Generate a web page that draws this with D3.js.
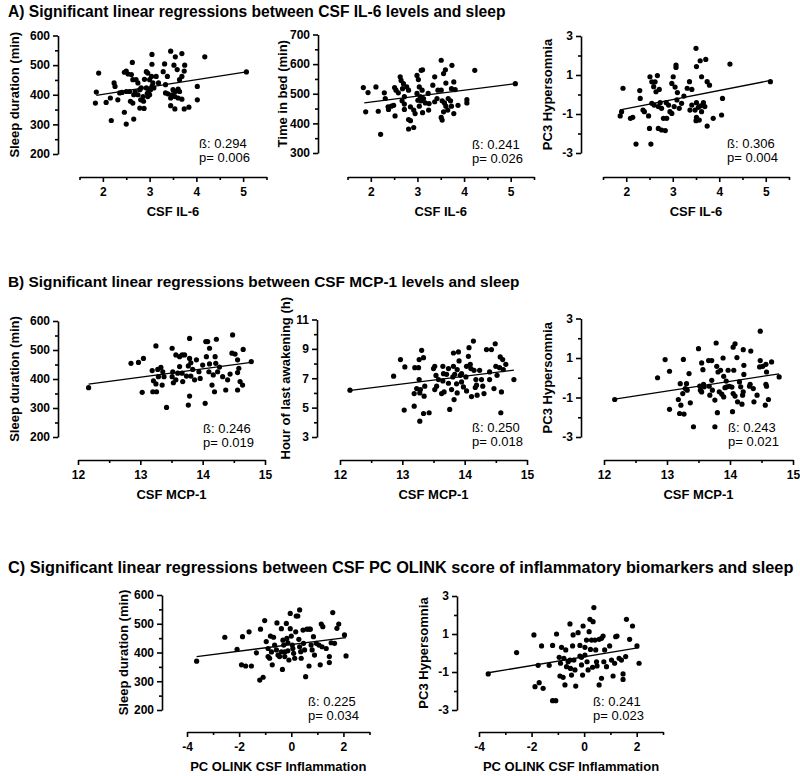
<!DOCTYPE html>
<html><head><meta charset="utf-8">
<script src="https://cdn.jsdelivr.net/npm/d3@7"></script>
<style>body{margin:0;background:#fff} svg text{font-family:"Liberation Sans",Arial,Helvetica,sans-serif;fill:#000}</style>
</head><body><svg id="c" width="800" height="776"></svg>
<script>
// ---------- DATA ----------
const titles = [
  "A) Significant linear regressions between CSF IL-6 levels and sleep",
  "B) Significant linear regressions between CSF MCP-1 levels and sleep",
  "C) Significant linear regressions between CSF PC OLINK score of inflammatory biomarkers and sleep"
];
const xLabels = ["CSF IL-6","CSF IL-6","CSF IL-6","CSF MCP-1","CSF MCP-1","CSF MCP-1","PC OLINK CSF Inflammation","PC OLINK CSF Inflammation"];
const yLabels = ["Sleep duration (min)","Time in bed (min)","PC3 Hypersomnia","Sleep duration (min)","Hour of last awakening (h)","PC3 Hypersomnia","Sleep duration (min)","PC3 Hypersomnia"];
const betas = ["0.294","0.241","0.306","0.246","0.250","0.243","0.225","0.241"];
const pvals = ["0.006","0.026","0.004","0.019","0.018","0.021","0.034","0.023"];

const ticksIL6 = [2,3,4,5], minorIL6 = [1.5,2.5,3.5,4.5,5.5];
const ticksMCP = [12,13,14,15], minorMCP = [12.5,13.5,14.5];
const ticksOlink = [-4,-2,0,2], minorOlink = [-3,-1,1,3];
const ticksSleep = [200,300,400,500,600], minorSleep = [250,350,450,550];
const ticksBed = [300,400,500,600,700], minorBed = [350,450,550,650];
const ticksPC3 = [-3,-1,1,3], minorPC3 = [-2,0,2];
const ticksWake = [3,5,7,9,11], minorWake = [4,6,8,10];

const il6Sleep = [[1.91,473],[1.86,409],[1.84,372],[2.07,374],[2.16,389],[2.18,313],[2.24,440],[2.26,428],[2.32,383],[2.36,406],[2.41,408],[2.46,476],[2.5,480],[2.54,470],[2.46,341],[2.5,301],[2.66,318],[2.63,509],[2.61,468],[2.64,451],[2.59,378],[2.64,372],[2.5,411],[2.57,411],[2.69,411],[2.66,400],[2.75,400],[2.79,417],[2.82,423],[2.79,355],[2.88,354],[2.81,383],[2.87,378],[2.93,478],[2.96,473],[2.89,452],[3.0,451],[3.05,536],[3.05,503],[3.04,462],[3.07,440],[2.98,411],[3.02,417],[3.05,428],[3.09,423],[2.93,423],[2.95,405],[3.0,400],[2.96,394],[2.86,394],[3.19,440],[3.32,504],[3.29,478],[3.38,462],[3.34,434],[3.45,547],[3.55,528],[3.69,539],[3.52,500],[3.59,485],[3.75,500],[3.74,480],[3.69,462],[3.64,451],[3.39,403],[3.34,406],[3.5,417],[3.55,411],[3.61,419],[3.64,411],[3.48,400],[3.54,394],[3.45,389],[3.61,389],[3.69,385],[3.45,363],[3.54,352],[3.74,352],[3.84,358],[4.02,428],[4.02,383],[4.18,528],[5.07,477],[2.71,451],[2.75,440],[3.14,462]];
const il6Bed = [[1.84,521],[1.94,504],[1.89,439],[2.11,523],[2.16,441],[2.21,363],[2.29,503],[2.31,484],[2.37,456],[2.38,447],[2.44,458],[2.49,461],[2.52,425],[2.51,521],[2.54,512],[2.59,503],[2.63,557],[2.65,545],[2.7,534],[2.68,517],[2.72,490],[2.67,476],[2.72,465],[2.77,523],[2.81,512],[2.72,447],[2.85,456],[2.92,445],[2.95,433],[2.81,413],[2.85,409],[2.81,381],[2.92,386],[2.99,562],[3.02,548],[3.08,579],[3.11,581],[3.04,523],[3.1,512],[2.99,501],[3.06,490],[3.01,478],[3.08,476],[3.13,484],[3.17,469],[3.04,458],[3.11,436],[3.23,501],[3.37,557],[3.33,529],[3.44,512],[3.42,484],[3.51,512],[3.37,473],[3.25,467],[3.51,613],[3.6,581],[3.74,596],[3.56,568],[3.61,536],[3.78,540],[3.73,517],[3.81,514],[3.53,476],[3.58,469],[3.66,484],[3.71,476],[3.61,458],[3.73,458],[3.56,439],[3.65,445],[3.51,420],[3.53,411],[3.78,433],[3.87,461],[4.06,480],[4.06,469],[4.23,579],[5.1,534],[3.24,445]];
const il6Hyper = [[1.93,0.32],[1.87,-1.1],[1.9,-0.88],[2.09,-1.22],[2.14,-1.17],[2.21,-2.54],[2.29,0.2],[2.3,-0.2],[2.36,-0.8],[2.39,-0.88],[2.48,-1.1],[2.53,-2.54],[2.5,-1.74],[2.51,0.91],[2.55,0.65],[2.59,0.4],[2.62,0.65],[2.67,0.97],[2.64,0.14],[2.71,0.26],[2.55,-0.45],[2.6,-0.54],[2.69,-0.62],[2.73,-0.42],[2.76,-0.71],[2.69,-1.74],[2.76,-1.82],[2.84,-1.85],[2.8,-1.22],[2.87,-1.22],[2.86,-0.42],[2.91,-0.54],[2.94,-0.88],[2.98,0.57],[3.01,0.91],[3.07,1.51],[3.07,1.39],[3.05,0.38],[3.1,0.1],[3.09,-0.28],[3.03,-0.62],[2.98,-0.97],[3.14,-0.71],[3.19,-0.45],[3.24,-0.08],[3.31,0.32],[3.36,0.66],[3.41,0.26],[3.5,2.37],[3.59,1.73],[3.71,1.8],[3.51,1.43],[3.62,0.91],[3.74,0.66],[3.79,0.48],[3.41,-0.54],[3.51,-0.42],[3.55,-0.66],[3.6,-0.58],[3.66,-0.42],[3.69,-0.62],[3.62,-0.88],[3.48,-0.8],[3.37,-0.8],[3.51,-1.17],[3.5,-1.34],[3.57,-1.31],[3.74,-1.62],[3.87,-1.22],[4.07,-0.2],[4.05,-1.05],[4.23,1.56],[5.1,0.66]];
const mcpSleep = [[12.17,370],[12.85,454],[12.97,457],[13.05,471],[13.03,354],[13.2,356],[13.26,356],[13.25,514],[13.19,429],[13.28,433],[13.33,440],[13.36,425],[13.21,394],[13.25,383],[13.35,379],[13.29,408],[13.42,302],[13.51,506],[13.57,483],[13.52,425],[13.51,408],[13.57,397],[13.53,387],[13.63,443],[13.67,483],[13.71,483],[13.67,420],[13.68,391],[13.74,410],[13.79,540],[13.79,471],[13.77,445],[13.81,456],[13.84,433],[13.81,410],[13.87,397],[13.79,341],[13.77,310],[13.9,466],[13.94,425],[14.0,448],[13.96,402],[14.05,529],[14.08,529],[14.11,506],[14.06,477],[14.11,452],[14.1,425],[14.04,316],[14.17,414],[14.15,379],[14.2,477],[14.22,537],[14.21,454],[14.24,425],[14.19,356],[14.27,441],[14.32,408],[14.37,362],[14.4,397],[14.44,417],[14.48,552],[14.47,489],[14.52,486],[14.56,466],[14.58,437],[14.56,422],[14.6,391],[14.56,362],[14.65,502],[14.64,379],[14.78,460],[13.63,477],[13.6,420],[13.38,408]];
const mcpWake = [[12.16,6.19],[12.86,7.14],[12.97,8.27],[13.04,7.77],[13.03,4.83],[13.19,5.1],[13.19,5.96],[13.23,6.3],[13.2,7.72],[13.26,7.72],[13.27,6.91],[13.31,8.9],[13.27,8.27],[13.34,8.4],[13.29,6.23],[13.28,6.0],[13.36,6.46],[13.35,5.78],[13.34,4.6],[13.43,4.65],[13.28,4.08],[13.5,7.66],[13.52,7.81],[13.54,7.19],[13.52,6.23],[13.55,6.46],[13.58,6.91],[13.65,7.81],[13.66,7.31],[13.65,6.82],[13.67,6.07],[13.63,5.96],[13.71,7.27],[13.74,7.66],[13.74,6.66],[13.76,4.88],[13.79,6.23],[13.82,7.81],[13.81,7.09],[13.84,7.27],[13.82,8.72],[13.83,5.55],[13.87,6.62],[13.9,8.79],[13.91,8.18],[13.88,7.59],[13.93,7.2],[13.95,6.75],[13.88,6.0],[13.95,7.31],[14.02,7.09],[14.03,6.14],[14.03,7.81],[14.06,8.49],[14.07,9.08],[14.09,7.95],[14.1,7.66],[14.11,5.75],[14.14,9.53],[14.15,7.54],[14.18,6.91],[14.19,6.53],[14.17,6.37],[14.2,5.85],[14.24,7.54],[14.27,6.91],[14.29,6.46],[14.31,5.96],[14.35,8.95],[14.4,7.43],[14.4,6.91],[14.43,8.95],[14.49,9.35],[14.47,6.3],[14.5,7.81],[14.52,7.2],[14.56,7.72],[14.57,8.45],[14.58,4.65],[14.59,6.07],[14.61,8.27],[14.62,7.59],[14.66,7.95],[14.79,6.91],[13.98,6.41]];
const mcpHyper = [[12.17,-1.1],[12.85,0.0],[12.97,0.92],[13.04,0.33],[13.04,-1.6],[13.18,-1.1],[13.21,-0.3],[13.22,-1.39],[13.2,-1.81],[13.26,0.93],[13.27,-1.84],[13.25,-0.8],[13.29,-0.55],[13.31,-0.3],[13.32,-0.63],[13.35,0.21],[13.37,-1.27],[13.42,-2.48],[13.5,1.47],[13.52,-0.42],[13.53,-0.63],[13.55,0.75],[13.57,0.41],[13.58,-0.33],[13.55,-0.72],[13.59,-0.46],[13.66,0.87],[13.67,-0.43],[13.68,-0.88],[13.71,0.87],[13.71,-0.13],[13.72,-0.63],[13.76,-1.13],[13.76,-2.48],[13.78,1.76],[13.79,0.58],[13.8,-1.77],[13.81,0.29],[13.83,-0.71],[13.85,0.38],[13.87,-0.83],[13.89,1.0],[13.9,0.07],[13.94,-0.17],[13.95,-0.46],[13.92,-0.5],[13.9,-0.97],[13.97,0.38],[13.99,-0.43],[14.03,-0.47],[14.04,-1.72],[14.05,1.55],[14.08,1.72],[14.06,0.38],[14.05,-0.8],[14.08,-0.93],[14.11,1.02],[14.12,-1.22],[14.15,-0.21],[14.17,-0.46],[14.19,-1.34],[14.21,1.42],[14.22,0.63],[14.22,0.17],[14.21,-0.71],[14.2,-0.88],[14.32,-0.33],[14.33,1.35],[14.31,-0.43],[14.37,-0.55],[14.38,-1.22],[14.43,-0.88],[14.48,2.36],[14.48,0.87],[14.47,0.55],[14.52,0.58],[14.57,0.68],[14.58,0.29],[14.57,-0.33],[14.56,-1.39],[14.61,-1.1],[14.66,0.8],[14.78,0.04],[14.58,-0.43]];
const olinkSleep = [[-3.63,370],[-2.55,453],[-2.08,411],[-1.87,455],[-1.91,357],[-1.75,353],[-1.53,353],[-1.62,472],[-1.34,399],[-1.18,481],[-1.21,304],[-1.08,314],[-1.02,511],[-0.96,438],[-0.89,414],[-0.89,386],[-0.83,380],[-0.8,457],[-0.76,402],[-0.73,357],[-0.68,453],[-0.64,426],[-0.57,409],[-0.51,391],[-0.55,503],[-0.38,483],[-0.45,386],[-0.34,341],[-0.32,443],[-0.29,426],[-0.25,402],[-0.25,386],[-0.19,501],[-0.17,449],[-0.13,434],[-0.13,406],[-0.09,374],[-0.04,536],[-0.04,483],[0.0,457],[0.04,426],[0.06,414],[0.09,397],[0.13,380],[0.17,472],[0.19,527],[0.25,527],[0.32,548],[0.29,446],[0.32,420],[0.36,403],[0.38,380],[0.45,478],[0.47,432],[0.51,409],[0.55,316],[0.6,481],[0.68,481],[0.73,481],[0.68,353],[0.76,426],[0.8,409],[0.85,455],[0.89,391],[0.96,432],[1.11,357],[1.15,499],[1.21,490],[1.06,426],[1.18,420],[1.34,414],[1.46,365],[1.46,386],[1.53,434],[1.59,539],[1.66,432],[1.75,484],[1.82,499],[2.04,461],[2.1,388],[-0.38,402]];
const olinkHyper = [[-3.65,-1.1],[-2.57,0.02],[-1.91,0.95],[-1.87,-1.77],[-1.75,-0.65],[-1.71,-1.56],[-1.62,0.37],[-1.56,-1.86],[-1.33,-0.65],[-1.2,0.4],[-1.2,-2.51],[-1.08,-2.51],[-1.05,1.0],[-0.95,-0.23],[-0.9,-0.54],[-0.86,0.3],[-0.92,-1.21],[-0.8,-1.28],[-0.77,-0.28],[-0.73,-1.68],[-0.7,0.16],[-0.67,-0.72],[-0.61,-0.46],[-0.54,1.53],[-0.54,-0.37],[-0.52,-0.81],[-0.48,-1.16],[-0.42,0.95],[-0.44,0.37],[-0.39,-0.37],[-0.35,-0.89],[-0.32,-1.74],[-0.23,1.07],[-0.16,0.4],[-0.16,-0.16],[-0.1,-0.23],[-0.1,-0.63],[-0.06,-1.16],[-0.04,1.42],[0.03,0.3],[0.03,-0.11],[0.09,0.68],[0.11,-0.46],[0.15,-0.89],[0.19,1.12],[0.22,1.77],[0.24,0.19],[0.28,0.68],[0.32,-0.75],[0.34,1.65],[0.37,2.39],[0.41,0.68],[0.44,0.16],[0.47,-0.46],[0.49,-0.68],[0.57,0.72],[0.57,-1.68],[0.66,0.77],[0.66,-1.33],[0.72,0.89],[0.75,-0.46],[0.78,0.16],[0.85,-0.72],[0.97,0.37],[1.04,-0.37],[1.1,-1.21],[1.16,-0.54],[1.2,0.86],[1.25,0.89],[1.33,-0.28],[1.42,-0.37],[1.48,-1.1],[1.48,-1.39],[1.58,-0.19],[1.61,1.77],[1.73,0.72],[1.84,1.42],[2.01,0.37],[2.09,-0.54]];

// regression line end points [[x0,y0],[x1,y1]]
const fits = [
  [[1.86,398],[5.07,477]],
  [[1.86,469],[5.1,534]],
  [[1.87,-0.79],[5.1,0.72]],
  [[12.17,382],[14.78,457]],
  [[12.17,6.17],[14.79,7.55]],
  [[12.17,-1.08],[14.78,0.2]],
  [[-3.63,386],[2.1,452]],
  [[-3.65,-1.04],[2.09,0.28]]
];

// ---------- LAYOUT ----------
const panels = [
  {pts:il6Sleep, xd:[1.5,5.5], xt:ticksIL6, xm:minorIL6, yd:[200,600], yt:ticksSleep, ym:minorSleep, ax:58, yT:35.5, yB:154, xy:177, xL:79.5, xR:266.5, ytx:19, anx:199, any:148},
  {pts:il6Bed, xd:[1.5,5.5], xt:ticksIL6, xm:minorIL6, yd:[300,700], yt:ticksBed, ym:minorBed, ax:318, yT:34.5, yB:153, xy:177, xL:347.5, xR:534, ytx:287, anx:472, any:149},
  {pts:il6Hyper, xd:[1.5,5.5], xt:ticksIL6, xm:minorIL6, yd:[-3,3], yt:ticksPC3, ym:minorPC3, ax:581, yT:36, yB:153, xy:177, xL:603, xR:789, ytx:552, anx:727, any:148},
  {pts:mcpSleep, xd:[12,15], xt:ticksMCP, xm:minorMCP, yd:[200,600], yt:ticksSleep, ym:minorSleep, ax:58, yT:321, yB:437, xy:460, xL:78, xR:265, ytx:19, anx:203, any:433},
  {pts:mcpWake, xd:[12,15], xt:ticksMCP, xm:minorMCP, yd:[3,11], yt:ticksWake, ym:minorWake, ax:317, yT:319.5, yB:437, xy:460, xL:340, xR:527, ytx:290, anx:472, any:432},
  {pts:mcpHyper, xd:[12,15], xt:ticksMCP, xm:minorMCP, yd:[-3,3], yt:ticksPC3, ym:minorPC3, ax:581, yT:318.5, yB:437, xy:460, xL:604, xR:793, ytx:552, anx:728, any:432},
  {pts:olinkSleep, xd:[-4,3], xt:ticksOlink, xm:minorOlink, yd:[200,600], yt:ticksSleep, ym:minorSleep, ax:162, yT:595, yB:710, xy:732, xL:187, xR:369.5, ytx:128, anx:308, any:706},
  {pts:olinkHyper, xd:[-4,3], xt:ticksOlink, xm:minorOlink, yd:[-3,3], yt:ticksPC3, ym:minorPC3, ax:457, yT:596, yB:710, xy:732, xL:479, xR:663, ytx:428, anx:593, any:706}
];
const titleY = [17, 287, 573];
const titleSize = ["15.6px","15.4px","16.3px"];

const svg = d3.select('#c');
svg.append('rect').attr('width',800).attr('height',776).attr('fill','#fff');

titles.forEach((t,i)=>{
  svg.append('text').attr('x',8).attr('y',titleY[i]).attr('font-size',titleSize[i]).attr('font-weight','bold').text(t);
});

function styleAxis(g, sw){
  g.attr('font-family',null).attr('font-size',null);
  g.selectAll('.domain').attr('stroke','#000').attr('stroke-width',sw);
  g.selectAll('.tick line').attr('stroke','#000').attr('stroke-width',sw);
  g.selectAll('.tick text').attr('font-size','12px').attr('font-weight','bold').attr('fill','#000');
}

panels.forEach((p,i)=>{
  const x = d3.scaleLinear().domain(p.xd).range([p.xL,p.xR]);
  const y = d3.scaleLinear().domain(p.yd).range([p.yB,p.yT]);
  const g = svg.append('g');

  const gy = g.append('g').attr('transform',`translate(${p.ax},0)`)
    .call(d3.axisLeft(y).tickValues(p.yt).tickFormat(d=>String(d)).tickSize(5).tickSizeOuter(0).tickPadding(3));
  styleAxis(gy,1.6);
  const gym = g.append('g').attr('transform',`translate(${p.ax},0)`)
    .call(d3.axisLeft(y).tickValues(p.ym).tickFormat('').tickSize(3).tickSizeOuter(0));
  gym.select('.domain').remove(); styleAxis(gym,1.6);

  const gx = g.append('g').attr('transform',`translate(0,${p.xy})`)
    .call(d3.axisBottom(x).tickValues(p.xt).tickFormat(d=>String(d)).tickSize(5).tickSizeOuter(0).tickPadding(5));
  styleAxis(gx,1.6);
  const gxm = g.append('g').attr('transform',`translate(0,${p.xy})`)
    .call(d3.axisBottom(x).tickValues(p.xm).tickFormat('').tickSize(3).tickSizeOuter(0));
  gxm.select('.domain').remove(); styleAxis(gxm,1.6);

  g.append('text').attr('x',(p.xL+p.xR)/2).attr('y',p.xy+39).attr('text-anchor','middle')
    .attr('font-size','13px').attr('font-weight','bold').text(xLabels[i]);
  g.append('text').attr('transform',`translate(${p.ytx},${(p.yT+p.yB)/2}) rotate(-90)`).attr('text-anchor','middle')
    .attr('font-size','13px').attr('font-weight','bold').text(yLabels[i]);

  g.append('g').selectAll('circle').data(p.pts).join('circle')
    .attr('cx',d=>x(d[0])).attr('cy',d=>y(d[1])).attr('r',2.6).attr('fill','#000');

  g.append('line').attr('x1',x(fits[i][0][0])).attr('y1',y(fits[i][0][1]))
    .attr('x2',x(fits[i][1][0])).attr('y2',y(fits[i][1][1])).attr('stroke','#000').attr('stroke-width',1.3);

  g.append('text').attr('x',p.anx).attr('y',p.any).attr('font-size','13px').text('ß: '+betas[i]);
  g.append('text').attr('x',p.anx).attr('y',p.any+14).attr('font-size','13px').text('p= '+pvals[i]);
});
</script></body></html>
